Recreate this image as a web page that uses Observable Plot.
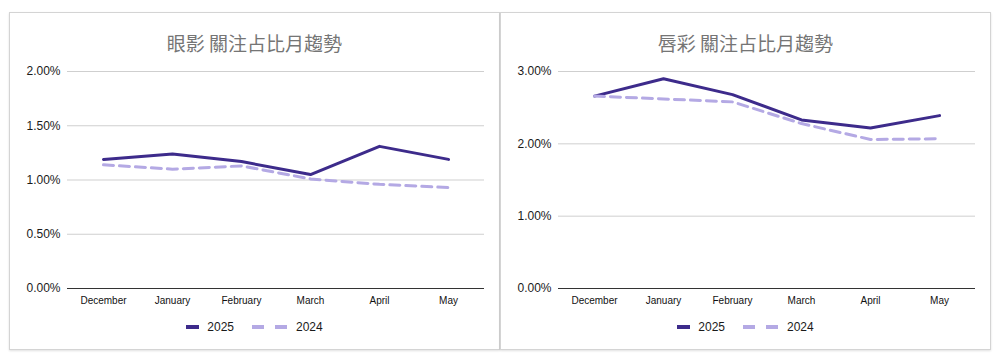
<!DOCTYPE html>
<html>
<head>
<meta charset="utf-8">
<script src="https://cdn.jsdelivr.net/npm/d3@7"></script>
<script src="https://cdn.jsdelivr.net/npm/@observablehq/plot@0.6"></script>
<style>
  html, body { margin: 0; padding: 0; background: #fff; }
  #wrap { position: relative; width: 1002px; height: 364px; overflow: hidden; font-family: "Liberation Sans", Arial, sans-serif; }
  .panel { position: absolute; top: 12px; height: 338px; width: 491px; box-sizing: border-box; border: 1px solid #d4d4d4; box-shadow: 0 1px 2px rgba(0,0,0,0.12); background: #fff; }
  .title { position: absolute; left: 0; width: 100%; top: 18px; line-height: 24px; text-align: center; font-family: "Noto Sans CJK TC", "Noto Sans", sans-serif; font-size: 19px; color: #757575; }
  .chart { position: absolute; left: 0; top: 48px; }
  .legend { position: absolute; left: 0; width: 100%; top: 305px; line-height: 16px; text-align: center; font-size: 12px; color: #1a1a1a; }
  .legend .item { display: inline-flex; align-items: center; vertical-align: middle; }
  .legend .item + .item { margin-left: 18px; }
  .legend svg { margin-right: 8px; }
</style>
</head>
<body>
<div id="wrap"></div>
<script>
const months = ["December", "January", "February", "March", "April", "May"];
const seriesNames = ["2025", "2024"];
const eye2025 = [1.19, 1.24, 1.17, 1.05, 1.31, 1.19];
const eye2024 = [1.14, 1.10, 1.13, 1.01, 0.96, 0.93];
const lip2025 = [2.66, 2.90, 2.68, 2.33, 2.22, 2.39];
const lip2024 = [2.66, 2.62, 2.58, 2.28, 2.06, 2.07];
const eyeTicks = [0, 0.5, 1.0, 1.5, 2.0];
const lipTicks = [0, 1.0, 2.0, 3.0];
const titles = ["眼影 關注占比月趨勢", "唇彩 關注占比月趨勢"];

const color2025 = "#3d2b8b";
const color2024 = "#b4a9e4";

function toRows(values) {
  return months.map((m, i) => ({month: m, value: values[i]}));
}

function makeChart(a2025, a2024, ticks, yMax) {
  return Plot.plot({
    width: 489,
    height: 262,
    marginLeft: 57,
    marginRight: 15,
    marginTop: 10,
    marginBottom: 35,
    style: {fontFamily: "'Liberation Sans', Arial, sans-serif", background: "transparent", overflow: "visible"},
    x: {type: "point", domain: months, padding: 0.5, label: null},
    y: {domain: [0, yMax], label: null},
    marks: [
      Plot.ruleY(ticks.filter(t => t !== 0), {stroke: "#cfcfcf", strokeWidth: 1}),
      Plot.ruleY([0], {stroke: "#333", strokeWidth: 1.2}),
      Plot.axisY({ticks: ticks, tickSize: 0, tickPadding: 7, tickFormat: d => d.toFixed(2) + "%", fontSize: 12, fill: "#1a1a1a", label: null}),
      Plot.axisX({tickSize: 0, tickPadding: 8, fontSize: 10, fill: "#111", label: null}),
      Plot.lineY(toRows(a2025), {x: "month", y: "value", stroke: color2025, strokeWidth: 3, strokeLinejoin: "round"}),
      Plot.lineY(toRows(a2024), {x: "month", y: "value", stroke: color2024, strokeWidth: 3, strokeDasharray: "10,6"})
    ]
  });
}

function legend() {
  const d = document.createElement("div");
  d.className = "legend";
  d.innerHTML =
    `<span class="item"><svg width="13" height="6"><line x1="0" y1="3" x2="13" y2="3" stroke="${color2025}" stroke-width="4"/></svg>${seriesNames[0]}</span>` +
    `<span class="item"><svg width="36" height="6"><line x1="0" y1="3" x2="36" y2="3" stroke="${color2024}" stroke-width="4" stroke-dasharray="12,11"/></svg>${seriesNames[1]}</span>`;
  return d;
}

const wrap = document.getElementById("wrap");
const configs = [
  {left: 9, a: eye2025, b: eye2024, ticks: eyeTicks, max: 2.0},
  {left: 500, a: lip2025, b: lip2024, ticks: lipTicks, max: 3.0}
];
configs.forEach((c, i) => {
  const p = document.createElement("div");
  p.className = "panel";
  p.style.left = c.left + "px";
  const t = document.createElement("div");
  t.className = "title";
  t.textContent = titles[i];
  p.appendChild(t);
  const ch = makeChart(c.a, c.b, c.ticks, c.max);
  ch.classList.add("chart");
  p.appendChild(ch);
  p.appendChild(legend());
  wrap.appendChild(p);
});
</script>
</body>
</html>
